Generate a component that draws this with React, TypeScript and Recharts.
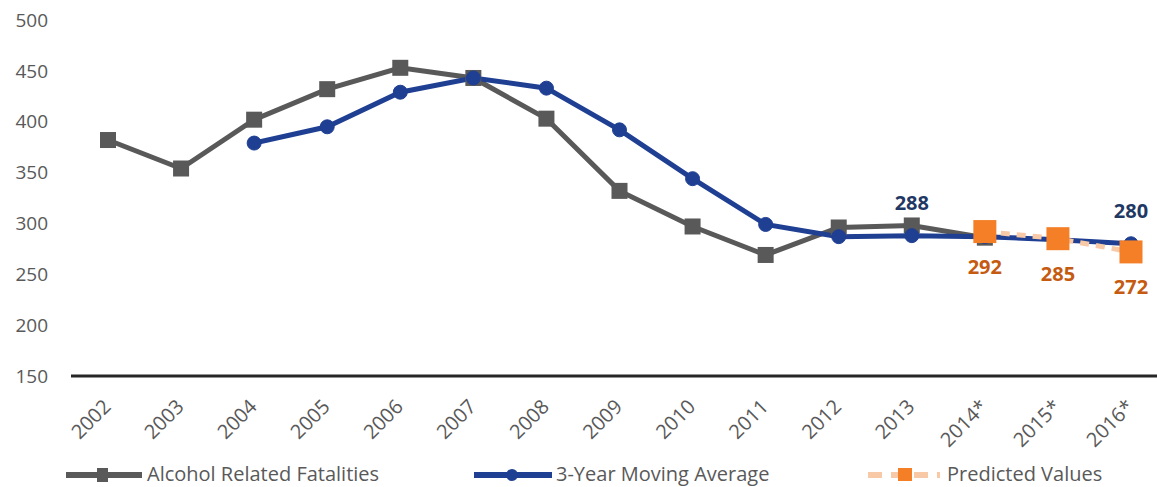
import { LabelList, Line, LineChart, XAxis, YAxis } from 'recharts';

const years = ['2002', '2003', '2004', '2005', '2006', '2007', '2008', '2009', '2010', '2011', '2012', '2013', '2014*', '2015*', '2016*'];
const fatalities = [382, 354, 402, 432, 453, 443, 403, 332, 297, 269, 296, 298, 286, null, null];
const movingAverage = [null, null, 379, 395, 429, 443, 433, 392, 344, 299, 287, 288, 287, 284, 280];
const predicted = [null, null, null, null, null, null, null, null, null, null, null, null, 292, 285, 272];
const averageLabelYears = ['2013', '2016*'];
const yTicks = [150, 200, 250, 300, 350, 400, 450, 500];

const GRAY = '#595959';
const NAVY = '#1f3f93';
const ORANGE = '#f47f27';
const PEACH = '#f8c9a6';
const FONT = '"Open Sans", sans-serif';

const data = years.map((year, i) => ({
  year,
  fatalities: fatalities[i],
  average: movingAverage[i],
  predicted: predicted[i],
}));

// square marker, size in px
const squareDot = (size: number, fill: string) => (props: any) => {
  const { cx, cy, index, value } = props;
  if (value == null || cx == null || cy == null) return <g key={`e-${index}`} />;
  return <rect key={`s-${index}`} x={cx - size / 2} y={cy - size / 2} width={size} height={size} fill={fill} />;
};

const XTick = (props: any) => {
  const { x, y, payload } = props;
  const tx = x + 4;
  const ty = y + 24;
  return (
    <text x={tx} y={ty} textAnchor="end" fill={GRAY} fontSize={20} fontFamily={FONT} transform={`rotate(-45 ${tx} ${ty})`}>
      {payload.value}
    </text>
  );
};

const averageLabel = (props: any) => {
  const { x, y, value, index } = props;
  if (!averageLabelYears.includes(years[index])) return null;
  return (
    <text x={x} y={y - 26} textAnchor="middle" fill="#1f3864" fontSize={20} fontWeight={700} fontFamily={FONT}>
      {value}
    </text>
  );
};

const predictedLabel = (props: any) => {
  const { x, y, value } = props;
  if (value == null) return null;
  return (
    <text x={x} y={y + 42} textAnchor="middle" fill="#c55a11" fontSize={20} fontWeight={700} fontFamily={FONT}>
      {value}
    </text>
  );
};

function ChartLegend() {
  const textProps = { fill: GRAY, fontSize: 20, fontFamily: FONT, y: 481 };
  return (
    <svg width={1157} height={40} style={{ position: 'absolute', left: 0, top: 447 }}>
      <g transform="translate(0,-447)">
        <line x1={66} y1={475} x2={142} y2={475} stroke={GRAY} strokeWidth={6} />
        <rect x={97} y={468} width={11} height={14} fill={GRAY} />
        <text x={147} {...textProps}>Alcohol Related Fatalities</text>
        <line x1={474} y1={475} x2={552} y2={475} stroke={NAVY} strokeWidth={6} />
        <circle cx={512} cy={475} r={6} fill={NAVY} />
        <text x={556} {...textProps}>3-Year Moving Average</text>
        <line x1={868} y1={475} x2={940} y2={475} stroke={PEACH} strokeWidth={6} strokeDasharray="14 9" />
        <rect x={898} y={468} width={14} height={13} fill={ORANGE} />
        <text x={947} {...textProps}>Predicted Values</text>
      </g>
    </svg>
  );
}

export default function App() {
  return (
    <div style={{ position: 'absolute', left: 0, top: 0, width: 1157, height: 487, background: '#fff' }}>
      <LineChart width={1157} height={487} data={data} margin={{ top: 20, right: 0, left: 0, bottom: 51 }}>
        <XAxis
          dataKey="year"
          padding={{ left: 37, right: 26 }}
          axisLine={{ stroke: '#262626', strokeWidth: 3 }}
          tickLine={false}
          tick={<XTick />}
          height={60}
          interval={0}
        />
        <YAxis
          domain={[150, 500]}
          ticks={yTicks}
          width={71}
          axisLine={false}
          tickLine={false}
          tickMargin={17}
          tick={{ fill: GRAY, fontSize: 19, fontFamily: FONT }}
        />
        <Line
          dataKey="fatalities"
          stroke={GRAY}
          strokeWidth={5}
          dot={squareDot(16, GRAY)}
          activeDot={false}
          connectNulls={false}
          isAnimationActive={false}
        />
        <Line
          dataKey="average"
          stroke={NAVY}
          strokeWidth={5}
          dot={{ r: 7, fill: NAVY, stroke: NAVY, strokeWidth: 1 }}
          activeDot={false}
          isAnimationActive={false}
        >
          <LabelList dataKey="average" content={averageLabel} />
        </Line>
        <Line
          dataKey="predicted"
          stroke={PEACH}
          strokeWidth={5}
          strokeDasharray="9 7"
          dot={squareDot(23, ORANGE)}
          activeDot={false}
          isAnimationActive={false}
        >
          <LabelList dataKey="predicted" content={predictedLabel} />
        </Line>
      </LineChart>
      <ChartLegend />
    </div>
  );
}
